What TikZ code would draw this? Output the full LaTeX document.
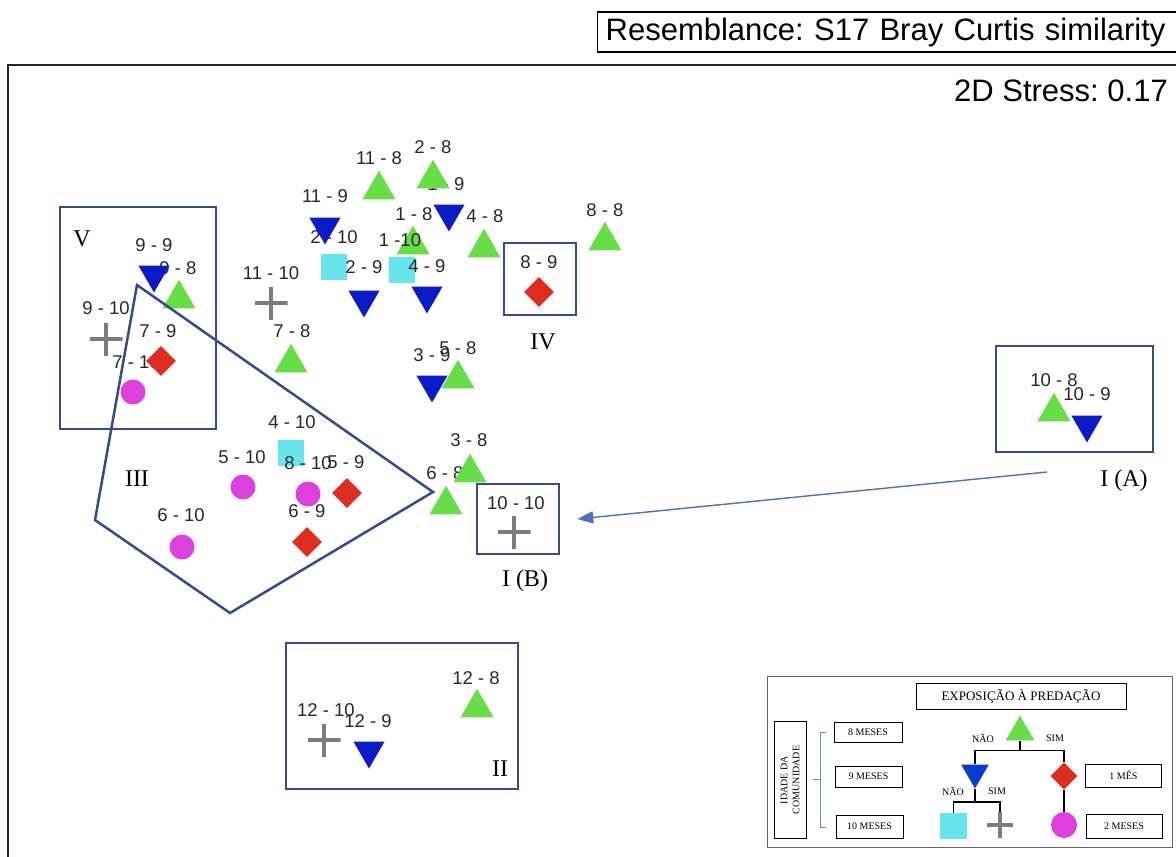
\documentclass[tikz,border=0pt]{standalone}
\usepackage{fontspec}
\setmainfont{Liberation Serif}
\setsansfont{Liberation Sans}
\usetikzlibrary{shapes.geometric,arrows.meta}
\frenchspacing

\definecolor{mgreen}{RGB}{102,222,70}
\definecolor{mblue}{RGB}{10,28,200}
\definecolor{mcyan}{RGB}{102,230,236}
\definecolor{mred}{RGB}{222,45,30}
\definecolor{mmag}{RGB}{222,64,222}
\definecolor{mgray}{RGB}{125,125,125}
\definecolor{grpblue}{RGB}{52,76,140}
\definecolor{arrblue}{RGB}{74,114,196}
\definecolor{lbl}{RGB}{40,40,40}
\definecolor{brk}{RGB}{110,140,210}

\tikzset{
  lab/.style={font=\sffamily\fontsize{18.5}{18.5}\selectfont, text=lbl, inner sep=0pt},
  tri/.style={regular polygon, regular polygon sides=3, minimum size=38pt, inner sep=0pt, fill=mgreen, yshift=-4.75pt},
  dtri/.style={regular polygon, regular polygon sides=3, shape border rotate=180, minimum size=36pt, inner sep=0pt, fill=mblue, yshift=4.5pt},
  sqr/.style={rectangle, minimum size=26pt, inner sep=0pt, fill=mcyan},
  dia/.style={diamond, minimum size=30pt, inner sep=0pt, fill=mred},
  circ/.style={circle, minimum size=25pt, inner sep=0pt, fill=mmag},
  crs/.style={rectangle, minimum size=#1, inner sep=0pt,
    path picture={\draw[mgray, line width=4pt]
      (path picture bounding box.north) -- (path picture bounding box.south)
      (path picture bounding box.west) -- (path picture bounding box.east);}},
  crs/.default=33pt,
  grp/.style={draw=grpblue, line width=2.5pt, fill=none, inner sep=0pt},
  grplab/.style={font=\fontsize{24}{24}\selectfont, inner sep=0pt},
  lbox/.style={draw=black, line width=1pt, inner sep=0pt, font=\fontsize{10}{12}\selectfont},
  ltxt/.style={font=\fontsize{10}{12}\selectfont, inner sep=0pt},
  tree/.style={draw=black, line width=1.3pt},
}

% one ordination sample: label above, marker below
\newcommand\mdsPoint[5]{%
  \node[lab] (l#1) at (#2) {#5};
  \node[#4] (m#1) at (#3) {};
}

\begin{document}
\begin{tikzpicture}[x=1pt,y=-1pt]
\useasboundingbox (0,0) rectangle (1176,857);
\fill[white] (0,0) rectangle (1176,857);
\clip (0,0) rectangle (1176,857);

% plot frame and headers
\draw[line width=2pt, draw=black!85] (8,900) -- (8,65) -- (1200,65);
\node[draw, line width=1.3pt, anchor=west, text width=594pt, inner xsep=8pt,
      minimum height=40pt, align=left, font=\sffamily\fontsize{31}{31}\selectfont]
      (ttl) at (597,32) {Resemblance: S17 Bray Curtis similarity};
\node[anchor=east, inner sep=0pt, font=\sffamily\fontsize{31}{31}\selectfont]
      (stress) at (1168,91) {2D Stress: 0.17};

% samples (month - age)
\mdsPoint{1n9}{446,184}{449,218}{dtri}{1 - 9}
\mdsPoint{2n8}{433,147}{433,174}{tri}{2 - 8}
\mdsPoint{11n8}{379,158}{379,185}{tri}{11 - 8}
\mdsPoint{2n10}{334,237}{334,267}{sqr}{2 - 10}
\mdsPoint{11n9}{325,196}{325,231}{dtri}{11 - 9}
\mdsPoint{1n8}{414,214}{413,240}{tri}{1 - 8}
\mdsPoint{1n10}{400,240}{402,270}{sqr}{1 -10}
\mdsPoint{4n8}{485,216}{484,243}{tri}{4 - 8}
\mdsPoint{8n8}{605,210}{605,236}{tri}{8 - 8}
\mdsPoint{2n9}{364,267}{364,304}{dtri}{2 - 9}
\mdsPoint{4n9}{427,266}{427,300}{dtri}{4 - 9}
\mdsPoint{8n9}{539,262}{539,292}{dia}{8 - 9}
\mdsPoint{11n10}{271,273}{271,303}{crs}{11 - 10}
\mdsPoint{7n8}{292,331}{291,358}{tri}{7 - 8}
\mdsPoint{9n8}{178,268}{179,294}{tri}{9 - 8}
\mdsPoint{9n9}{154,245}{154,279}{dtri}{9 - 9}
\mdsPoint{9n10}{106,308}{106,339}{crs}{9 - 10}
\mdsPoint{7n10}{136,362}{133,392}{circ}{7 - 10}
\mdsPoint{7n9}{158,331}{161,361}{dia}{7 - 9}
\mdsPoint{3n9}{432,355}{432,389}{dtri}{3 - 9}
\mdsPoint{5n8}{458,348}{458,374}{tri}{5 - 8}
\mdsPoint{4n10}{292,422}{291,453}{sqr}{4 - 10}
\mdsPoint{5n10}{242,457}{243,487}{circ}{5 - 10}
\mdsPoint{8n10}{308,463}{308,494}{circ}{8 - 10}
\mdsPoint{5n9}{346,462}{347,493}{dia}{5 - 9}
\mdsPoint{6n9}{307,511}{307,542}{dia}{6 - 9}
\mdsPoint{6n10}{181,515}{182,547}{circ}{6 - 10}
\mdsPoint{6n8}{445,473}{446,500}{tri}{6 - 8}
\mdsPoint{3n8}{469,440}{470,468}{tri}{3 - 8}
\mdsPoint{10n10}{516,503}{514,532}{crs}{10 - 10}
\mdsPoint{10n8}{1054,380}{1054,407}{tri}{10 - 8}
\mdsPoint{10n9}{1087,394}{1087,429}{dtri}{10 - 9}
\mdsPoint{12n8}{476,678}{477,703}{tri}{12 - 8}
\mdsPoint{12n10}{326,710}{324,740}{crs}{12 - 10}
\mdsPoint{12n9}{368,721}{369,755}{dtri}{12 - 9}

% groups
\node[grp, minimum width=156pt, minimum height=222pt] (bV) at (138,318) {};
\draw[grp] (137,285) -- (433,492) -- (230,613) -- (95,520) -- cycle;
\node[grp, minimum width=72pt, minimum height=72pt] (bIV) at (540,279) {};
\node[grp, minimum width=82pt, minimum height=70pt] (bIB) at (518,519) {};
\node[grp, minimum width=157pt, minimum height=106pt] (bIA) at (1074.5,399) {};
\node[grp, minimum width=232pt, minimum height=146pt] (bII) at (402,716) {};

\node[grplab] (tV) at (82,239) {V};
\node[grplab] (tIII) at (137,479) {III};
\node[grplab] (tIV) at (543,342) {IV};
\node[grplab] (tIB) at (525,581) {I (B)};
\node[grplab] (tIA) at (1124,481) {I (A)};
\node[grplab] (tII) at (500,769) {II};

\coordinate (astart) at (1047,472);
\draw[arrblue, line width=1.4pt, -{Triangle[length=16pt,width=12pt]}]
  (astart) -- ([xshift=17pt]bIB.east);

% legend
\node[draw=black!60, line width=1pt, minimum width=405pt, minimum height=171pt, inner sep=0pt]
  (leg) at (969.5,761.5) {};
\node[lbox, minimum width=210pt, minimum height=26pt, font=\fontsize{13}{13}\selectfont]
  (expo) at (1021,696) {EXPOSIÇÃO À PREDAÇÃO};
\node[lbox, rotate=90, minimum width=117pt, minimum height=32pt, align=center]
  (idade) at (790,780) {IDADE DA\\COMUNIDADE};
\node[lbox, minimum width=68pt, minimum height=20pt] (m8) at (868,732) {8 MESES};
\node[lbox, minimum width=67pt, minimum height=21pt] (m9) at (868.5,776.5) {9 MESES};
\node[lbox, minimum width=67pt, minimum height=23pt] (m10) at (869.5,826.5) {10 MESES};
\node[lbox, minimum width=76pt, minimum height=23pt] (m1) at (1123.5,775.5) {1 MÊS};
\node[lbox, minimum width=76pt, minimum height=24pt] (m2) at (1124,826) {2 MESES};

\draw[brk, line width=1pt] (826,732) -- (820,732) -- (820,827) -- (826,827);
\draw[brk, line width=1pt] (813,779) -- (820,779);

\node[regular polygon, regular polygon sides=3, minimum size=33pt, inner sep=0pt,
      fill=mgreen, yshift=-4.1pt] (lgtri) at (1020,728) {};
\node[regular polygon, regular polygon sides=3, shape border rotate=180, minimum size=32pt,
      inner sep=0pt, fill=mblue!85!cyan, yshift=4pt] (ldtri) at (975,776.5) {};
\node[diamond, minimum size=27pt, inner sep=0pt, fill=mred] (ldia) at (1064,776) {};
\node[circle, minimum size=26pt, inner sep=0pt, fill=mmag] (lcirc) at (1064,825) {};
\node[rectangle, minimum width=27pt, minimum height=26pt, inner sep=0pt, fill=mcyan] (lsq) at (953.5,826) {};
\node[crs=26pt] (lcrs) at (1000,825) {};

\draw[tree] (lgtri.south) -- ([yshift=-10pt]lgtri.south) coordinate (tj1);
\draw[tree] (ldtri.north) |- (tj1) -| (ldia.north);
\draw[tree] (ldtri.south) -- ([yshift=-13pt]ldtri.south) coordinate (tj2);
\draw[tree] (lsq.north) |- (tj2) -| (lcrs.north);
\draw[tree] (ldia.south) -- (lcirc.north);

\node[ltxt] (n1) at (983,738) {NÃO};
\node[ltxt] (s1) at (1055,738) {SIM};
\node[ltxt] (n2) at (953,791) {NÃO};
\node[ltxt] (s2) at (997,791) {SIM};
\end{tikzpicture}
\end{document}
